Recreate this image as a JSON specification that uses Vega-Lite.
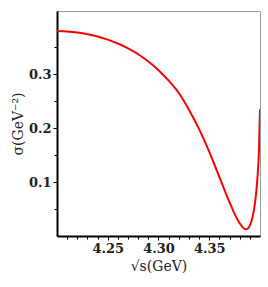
{
  "$schema": "https://vega.github.io/schema/vega-lite/v6.json",
  "width": 203,
  "height": 225,
  "autosize": "none",
  "padding": {"left": 57, "top": 11, "right": 8, "bottom": 51},
  "background": "white",
  "config": {
    "view": {"stroke": "#999999", "strokeWidth": 1},
    "axis": {"grid": false, "labelFont": "DejaVu Serif", "titleFont": "DejaVu Serif", "labelColor": "#222222", "titleColor": "#222222", "domainColor": "#000000", "tickColor": "#000000"}
  },
  "data": {
    "values": [
      {"x": 4.200, "y": 0.3800},
      {"x": 4.210, "y": 0.3790},
      {"x": 4.220, "y": 0.3770},
      {"x": 4.230, "y": 0.3740},
      {"x": 4.240, "y": 0.3697},
      {"x": 4.250, "y": 0.3640},
      {"x": 4.260, "y": 0.3568},
      {"x": 4.270, "y": 0.3478},
      {"x": 4.280, "y": 0.3368},
      {"x": 4.290, "y": 0.3233},
      {"x": 4.300, "y": 0.3073},
      {"x": 4.310, "y": 0.2880},
      {"x": 4.320, "y": 0.2650},
      {"x": 4.330, "y": 0.2340},
      {"x": 4.340, "y": 0.1980},
      {"x": 4.350, "y": 0.1560},
      {"x": 4.360, "y": 0.1090},
      {"x": 4.365, "y": 0.0855},
      {"x": 4.370, "y": 0.0625},
      {"x": 4.375, "y": 0.0410},
      {"x": 4.380, "y": 0.0235},
      {"x": 4.383, "y": 0.0160},
      {"x": 4.386, "y": 0.0125},
      {"x": 4.388, "y": 0.0140},
      {"x": 4.390, "y": 0.0195},
      {"x": 4.392, "y": 0.0300},
      {"x": 4.394, "y": 0.0480},
      {"x": 4.396, "y": 0.0760},
      {"x": 4.397, "y": 0.0960},
      {"x": 4.398, "y": 0.1220},
      {"x": 4.399, "y": 0.1600},
      {"x": 4.400, "y": 0.2350}
    ]
  },
  "mark": {"type": "line", "color": "#ff0000", "strokeWidth": 2, "interpolate": "monotone", "clip": true},
  "encoding": {
    "x": {
      "field": "x", "type": "quantitative",
      "scale": {"domain": [4.2, 4.4], "nice": false, "zero": false},
      "axis": {
        "title": "√s(GeV)", "titleFontSize": 14, "titleFontWeight": "normal", "titlePadding": 4,
        "values": [4.21, 4.22, 4.23, 4.24, 4.25, 4.26, 4.27, 4.28, 4.29, 4.30, 4.31, 4.32, 4.33, 4.34, 4.35, 4.36, 4.37, 4.38, 4.39],
        "format": ".2f",
        "labelExpr": "abs(datum.value*20 - round(datum.value*20)) < 0.001 ? datum.label : ''",
        "labelFontSize": 13, "labelFontWeight": "bold", "labelPadding": 2,
        "domainWidth": 2,
        "tickSize": {"condition": {"test": "abs(datum.value*20 - round(datum.value*20)) < 0.001", "value": 4}, "value": 3},
        "tickWidth": 1
      }
    },
    "y": {
      "field": "y", "type": "quantitative",
      "scale": {"domain": [0, 0.417], "nice": false},
      "axis": {
        "title": "σ(GeV⁻²)", "titleFontSize": 14, "titleFontWeight": "normal", "titleFontStyle": "normal", "titlePadding": 3,
        "values": [0.05, 0.1, 0.15, 0.2, 0.25, 0.3, 0.35],
        "format": ".1f",
        "labelExpr": "abs(datum.value*10 - round(datum.value*10)) < 0.001 ? datum.label : ''",
        "labelFontSize": 13, "labelFontWeight": "bold", "labelPadding": 2,
        "domainWidth": 2,
        "tickSize": {"condition": {"test": "abs(datum.value*10 - round(datum.value*10)) < 0.001", "value": 4}, "value": 3},
        "tickWidth": 1
      }
    }
  }
}
